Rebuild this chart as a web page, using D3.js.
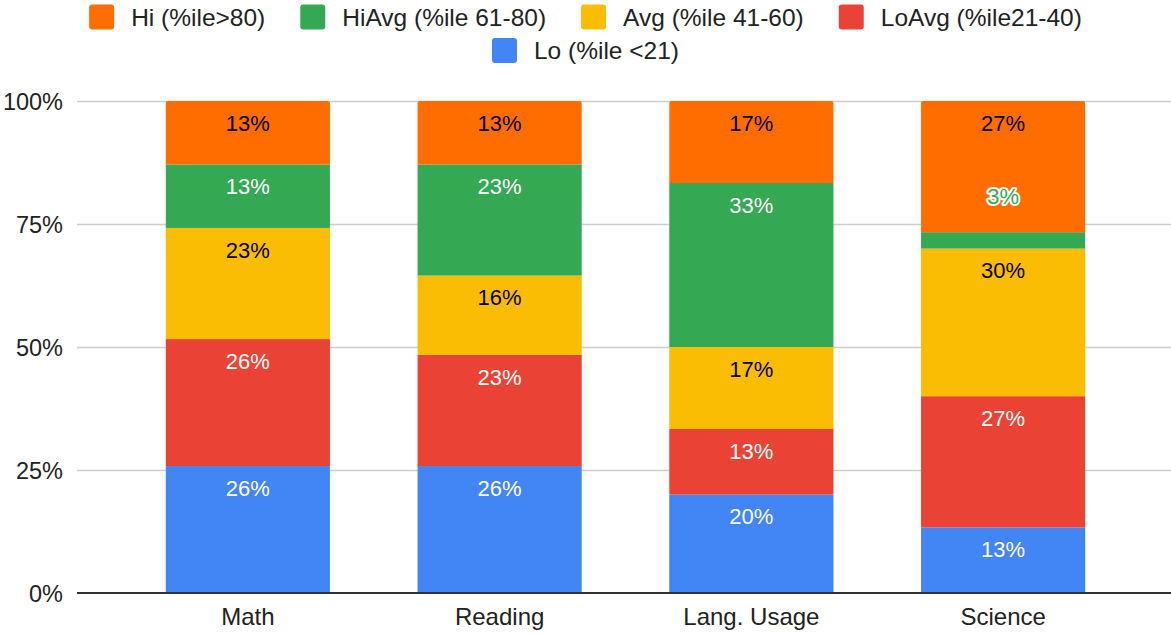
<!DOCTYPE html>
<html>
<head>
<meta charset="utf-8">
<script src="https://cdn.jsdelivr.net/npm/d3@7"></script>
<style>
  html, body { margin: 0; padding: 0; background: #fff; }
  svg { display: block; font-family: "Liberation Sans", Arial, sans-serif; }
</style>
</head>
<body>
<svg id="chart" width="1171" height="635"></svg>
<script>
// ---- data (student counts per percentile band) ----
const categories = ["Math", "Reading", "Lang. Usage", "Science"];
const seriesNames = ["Lo (%ile <21)", "LoAvg (%ile21-40)", "Avg (%ile 41-60)", "HiAvg (%ile 61-80)", "Hi (%ile>80)"];
const loValues    = [8, 8, 6, 4];
const loAvgValues = [8, 7, 4, 8];
const avgValues   = [7, 5, 5, 9];
const hiAvgValues = [4, 7, 10, 1];
const hiValues    = [4, 4, 5, 8];
const seriesColors = ["#4285f4", "#ea4335", "#fbbc04", "#34a853", "#ff6d01"];
const labelColors  = ["#ffffff", "#ffffff", "#000000", "#ffffff", "#000000"];
const yTicks = [0, 0.25, 0.5, 0.75, 1];

const seriesValues = [loValues, loAvgValues, avgValues, hiAvgValues, hiValues];
const keys = seriesNames;
const table = categories.map((c, i) => {
  const row = { category: c };
  keys.forEach((k, j) => row[k] = seriesValues[j][i]);
  return row;
});

const stack = d3.stack().keys(keys).offset(d3.stackOffsetExpand);
const stacked = stack(table);

const svg = d3.select("#chart");
const W = 1171, H = 635;
const plotLeft = 77, plotRight = 1171, plotTop = 101, plotBottom = 593;

const x = d3.scaleBand().domain(categories).range([122, 1129]).paddingInner(0.348).paddingOuter(0.174);
const y = d3.scaleLinear().domain([0, 1]).range([plotBottom, plotTop]);
const color = d3.scaleOrdinal().domain(keys).range(seriesColors);
const labelColor = d3.scaleOrdinal().domain(keys).range(labelColors);

// gridlines
svg.append("g").selectAll("line").data(yTicks.filter(t => t > 0)).join("line")
  .attr("x1", plotLeft).attr("x2", plotRight)
  .attr("y1", d => y(d) + 0.5).attr("y2", d => y(d) + 0.5)
  .attr("stroke", "#cccccc").attr("stroke-width", 1.3);

// y axis labels
const yAxis = d3.axisLeft(y).tickValues(yTicks).tickFormat(d3.format(".0%")).tickSize(0).tickPadding(0);
const yg = svg.append("g").attr("transform", `translate(63,0)`).call(yAxis);
yg.select(".domain").remove();
yg.selectAll("text").attr("font-size", 23.5).attr("fill", "#222").attr("font-family", "Liberation Sans, Arial, sans-serif")
  .attr("dy", "0.35em");

// bars
const groups = svg.append("g").selectAll("g").data(stacked).join("g")
  .attr("fill", d => color(d.key));

const lastIndex = stacked.length - 1;
groups.each(function(s, si) {
  const g = d3.select(this);
  s.forEach((d) => {
    const x0 = x(d.data.category), w = x.bandwidth();
    const y0 = y(d[0]), y1 = y(d[1]);
    if (si === lastIndex) {
      const r = 2;
      const p = d3.path();
      p.moveTo(x0, y0);
      p.lineTo(x0, y1 + r);
      p.quadraticCurveTo(x0, y1, x0 + r, y1);
      p.lineTo(x0 + w - r, y1);
      p.quadraticCurveTo(x0 + w, y1, x0 + w, y1 + r);
      p.lineTo(x0 + w, y0);
      p.closePath();
      g.append("path").attr("d", p.toString());
    } else {
      g.append("rect").attr("x", x0).attr("y", y1).attr("width", w).attr("height", Math.max(0, y0 - y1));
    }
  });
});

// baseline
svg.append("line").attr("x1", plotLeft).attr("x2", plotRight)
  .attr("y1", plotBottom).attr("y2", plotBottom)
  .attr("stroke", "#333333").attr("stroke-width", 2);

// data labels
const pct = d3.format(".0%");
const labelG = svg.append("g");
stacked.forEach(s => {
  s.forEach(d => {
    const cx = x(d.data.category) + x.bandwidth() / 2;
    const top = y(d[1]), h = y(d[0]) - y(d[1]);
    const txt = pct(d[1] - d[0]);
    if (h >= 40) {
      labelG.append("text").attr("x", cx).attr("y", top + 22).attr("dy", "0.35em")
        .attr("text-anchor", "middle").attr("font-size", 22).attr("fill", labelColor(s.key)).text(txt);
    } else {
      labelG.append("text").attr("x", cx).attr("y", top - 36).attr("dy", "0.35em")
        .attr("text-anchor", "middle").attr("font-size", 22)
        .attr("fill", color(s.key)).attr("stroke", "#ffffff").attr("stroke-width", 4)
        .attr("stroke-linejoin", "round").attr("paint-order", "stroke").text(txt);
    }
  });
});

// x axis labels
const xAxis = d3.axisBottom(x).tickSize(0).tickPadding(0);
const xg = svg.append("g").attr("transform", `translate(0,617)`).call(xAxis);
xg.select(".domain").remove();
xg.selectAll("text").attr("font-size", 24).attr("fill", "#222").attr("dy", "0.35em")
  .attr("font-family", "Liberation Sans, Arial, sans-serif");

// legend (two centred rows)
const legendRows = [
  { items: [4, 3, 2, 1], cy: 17 },
  { items: [0], cy: 50.5 }
];
const sw = 25, gapText = 17, gapItem = 35, legendCenter = W / 2;
const legend = svg.append("g");
legendRows.forEach(row => {
  const rowG = legend.append("g");
  let cur = 0;
  row.items.forEach((si, k) => {
    rowG.append("rect").attr("x", cur).attr("y", row.cy - sw / 2).attr("width", sw).attr("height", sw)
      .attr("rx", 3).attr("fill", seriesColors[si]);
    const t = rowG.append("text").attr("x", cur + sw + gapText).attr("y", row.cy).attr("dy", "0.35em")
      .attr("font-size", 24.5).attr("fill", "#222").text(seriesNames[si]);
    cur = cur + sw + gapText + t.node().getComputedTextLength();
    if (k < row.items.length - 1) cur += gapItem;
  });
  rowG.attr("transform", `translate(${legendCenter - cur / 2},0)`);
});
</script>
</body>
</html>
